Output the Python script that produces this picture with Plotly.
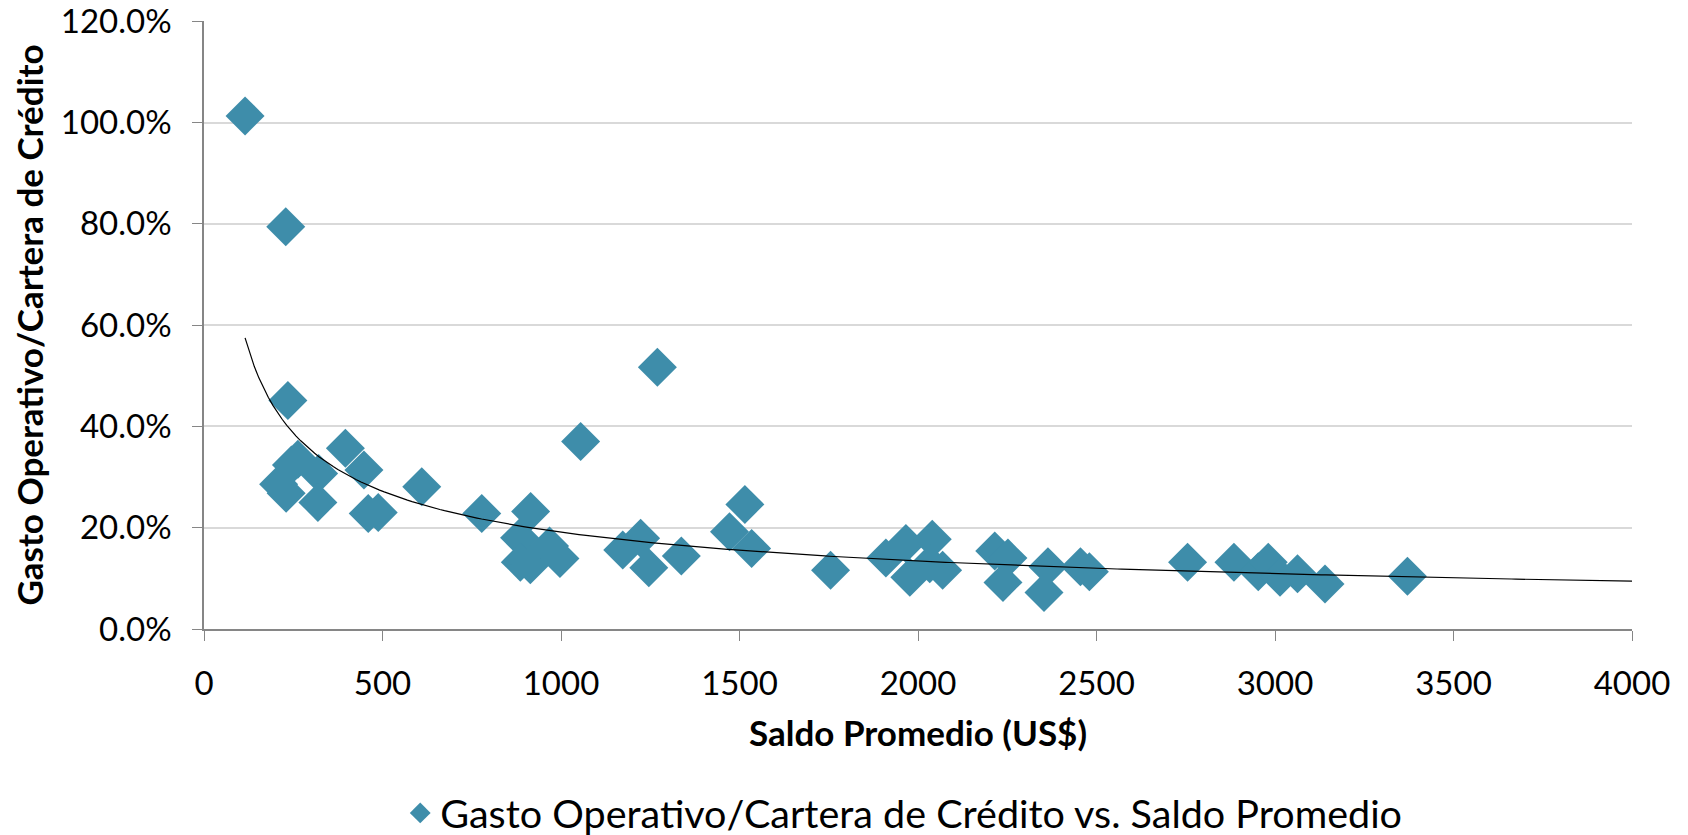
import numpy as np
import plotly.graph_objects as go

# Saldo promedio (US$) and gasto operativo / cartera de credito (%)
saldo = [115, 229, 235, 209, 230, 245, 263, 321, 319, 396,
         448, 460, 488, 610, 778, 884, 886, 914, 915, 968,
         997, 1055, 1173, 1223, 1246, 1270, 1337, 1472, 1515, 1534,
         1755, 1910, 1966, 2040, 1977, 2069, 2033, 2215, 2252, 2238,
         2364, 2353, 2455, 2480, 2755, 2885, 2953, 2981, 3014, 3063,
         3140, 3371]
gasto = [101.3, 79.4, 45.1, 28.6, 26.8, 32.4, 33.5, 30.7, 25.0, 35.7,
         31.4, 22.8, 23.0, 28.1, 22.8, 18.0, 13.2, 12.7, 23.2, 16.4,
         13.9, 37.0, 15.6, 17.9, 12.1, 51.7, 14.4, 19.2, 24.6, 15.9,
         11.6, 14.0, 16.9, 17.7, 10.2, 11.6, 12.9, 15.4, 14.0, 9.2,
         12.3, 7.2, 12.3, 11.3, 13.2, 13.2, 11.3, 13.2, 10.2, 10.9,
         8.9, 10.4]

x = np.array(saldo, dtype=float)
y = np.array(gasto) / 100

# power trendline (least squares on logs, like Excel)
b, ln_a = np.polyfit(np.log(x), np.log(y), 1)
x_fit = np.linspace(x.min(), 4000, 300)
y_fit = np.exp(ln_a) * x_fit ** b

font = "Lato"
color = "#3E8DAA"

fig = go.Figure()
fig.add_trace(go.Scatter(
    x=x, y=y, mode="markers",
    name="Gasto Operativo/Cartera de Crédito vs. Saldo Promedio",
    marker=dict(symbol="diamond", size=30, color=color, line=dict(width=0)),
))
fig.add_trace(go.Scatter(
    x=x_fit, y=y_fit, mode="lines", showlegend=False,
    line=dict(color="black", width=1.2), hoverinfo="skip",
))

# page body has an 8px margin, so the margins are shifted by that
fig.update_layout(
    width=1688, height=835,
    paper_bgcolor="white", plot_bgcolor="white",
    font=dict(family=font, color="black", size=33),
    margin=dict(l=196, r=64, t=13, b=214, autoexpand=False),
    showlegend=True,
    legend=dict(orientation="h", x=0.49, xanchor="center",
                y=-0.303, yanchor="middle",
                font=dict(size=39.5), itemsizing="trace"),
)
fig.update_xaxes(
    range=[0, 4000], dtick=500, tick0=0,
    showgrid=False, zeroline=False,
    showline=True, linecolor="#868686", linewidth=1.5,
    ticks="outside", ticklen=10, tickcolor="#868686",
    ticklabelstandoff=15,
    tickfont=dict(size=33),
    title=dict(text="<b>Saldo Promedio (US$)</b>", font=dict(size=35), standoff=20),
)
fig.update_yaxes(
    range=[0, 1.2004], tickmode="array",
    tickvals=[0, 0.2, 0.4, 0.6, 0.8, 1.0, 1.2], tickformat=".1%",
    ticklabeloverflow="allow",
    showgrid=True, gridcolor="#D9D9D9", gridwidth=1.5, zeroline=False,
    showline=True, linecolor="#868686", linewidth=1.5,
    ticks="outside", ticklen=10, tickcolor="#868686",
    ticklabelstandoff=14,
    tickfont=dict(size=33),
    title=dict(text="<b>Gasto Operativo/Cartera de Crédito</b>", font=dict(size=35), standoff=10),
)

fig.write_html("out.html")
